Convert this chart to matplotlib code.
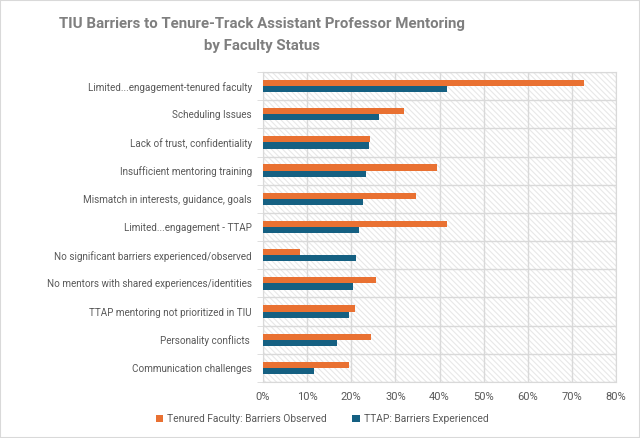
import matplotlib
matplotlib.use('agg')
import matplotlib.pyplot as plt
from matplotlib.ticker import PercentFormatter, FixedLocator
from matplotlib.patches import Rectangle

categories = [
    'Limited...engagement-tenured faculty',
    'Scheduling Issues',
    'Lack of trust, confidentiality',
    'Insufficient mentoring training',
    'Mismatch in interests, guidance, goals',
    'Limited...engagement - TTAP',
    'No significant barriers experienced/observed',
    'No mentors with shared experiences/identities',
    'TTAP mentoring not prioritized in TIU',
    'Personality conflicts ',
    'Communication challenges',
]
tenured = [0.727, 0.320, 0.242, 0.395, 0.347, 0.418, 0.083, 0.255, 0.208, 0.244, 0.194]
ttap = [0.416, 0.262, 0.240, 0.233, 0.226, 0.218, 0.211, 0.203, 0.196, 0.167, 0.116]

orange = '#E97132'
blue = '#156082'
grid_c = '#D9D9D9'
text_c = '#595959'

plt.rcParams['font.family'] = ['Roboto', 'DejaVu Sans']
plt.rcParams['hatch.color'] = '#E8E8E8'
plt.rcParams['hatch.linewidth'] = 0.8

fig = plt.figure(figsize=(6.4, 4.38), dpi=100)
fig.patches.append(Rectangle((0, 0), 1, 1, transform=fig.transFigure, fill=False,
                             edgecolor='#D9D9D9', linewidth=1.5))
ax = fig.add_axes([263 / 640, 1 - 382 / 438, (616 - 263) / 640, (382 - 72) / 438])

y = list(range(len(categories)))
h = 0.22
ax.barh([v - h / 2 for v in y], tenured, height=h, color=orange, label='Tenured Faculty: Barriers Observed', zorder=3)
ax.barh([v + h / 2 for v in y], ttap, height=h, color=blue, label='TTAP: Barriers Experienced', zorder=3)

ax.set_xlim(0, 0.8)
ax.set_ylim(len(categories) - 0.5, -0.5)
ax.add_patch(Rectangle((0, 0), 1, 1, transform=ax.transAxes, facecolor='white',
                       hatch='\\\\\\\\\\\\', linewidth=0, zorder=0))

ax.xaxis.set_major_locator(FixedLocator([i / 10 for i in range(9)]))
ax.xaxis.set_major_formatter(PercentFormatter(1.0, decimals=0))
ax.set_yticks(y)
ax.set_yticklabels(categories)
ax.yaxis.set_minor_locator(FixedLocator([v - 0.5 for v in range(len(categories) + 1)]))
ax.tick_params(axis='y', which='major', length=0, pad=8, labelsize=7.1, labelcolor=text_c)
ax.tick_params(axis='y', which='minor', length=4, color=grid_c)
ax.tick_params(axis='x', length=0, pad=7, labelsize=8, labelcolor=text_c)
ax.grid(True, axis='x', color=grid_c, linewidth=1, zorder=1)
ax.grid(True, axis='y', which='minor', color=grid_c, linewidth=1, zorder=1)
for s in ax.spines.values():
    s.set_color(grid_c)

fig.text(262 / 640, 1 - 35 / 438, 'TIU Barriers to Tenure-Track Assistant Professor Mentoring\nby Faculty Status',
         ha='center', va='center', fontsize=10.8, fontweight='bold', color='#7F7F7F', linespacing=1.65)

fig.legend(loc='center', bbox_to_anchor=(322 / 640, 1 - 419 / 438), ncol=2, frameon=False,
           fontsize=7.4, labelcolor=text_c, handlelength=0.7, handleheight=0.7, handletextpad=0.4,
           columnspacing=2.5)

fig.savefig('out.png', dpi=100)
